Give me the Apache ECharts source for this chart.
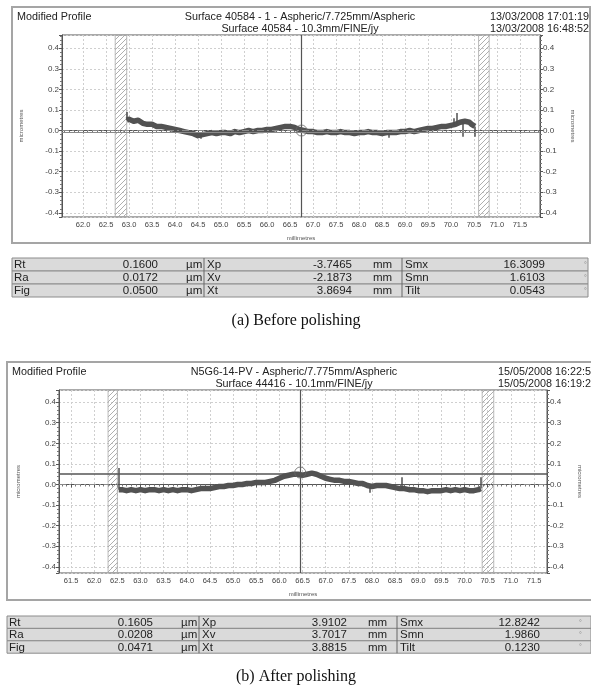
<!DOCTYPE html>
<html>
<head>
<meta charset="utf-8">
<script src="https://cdn.jsdelivr.net/npm/echarts@6/dist/echarts.min.js"></script>
<style>
html, body { margin: 0; padding: 0; background: #fff; }
#chart { width: 591px; height: 692px; }
</style>
</head>
<body>
<div id="chart"></div>
<script>
// profile readings [millimetres, micrometres]
var topProfile = [
  [62.95, 0.05], [62.97, 0.05], [63.0, 0.055], [63.1, 0.045], [63.2, 0.05], [63.3, 0.035],
  [63.4, 0.03], [63.5, 0.03], [63.6, 0.02], [63.7, 0.02], [63.8, 0.015], [63.9, 0.01],
  [64.0, 0.005], [64.1, 0.0], [64.2, -0.005], [64.3, -0.01], [64.4, -0.015], [64.5, -0.025],
  [64.6, -0.02], [64.7, -0.015], [64.8, -0.01], [64.9, -0.015], [65.0, -0.01],
  [65.1, -0.01], [65.2, -0.015], [65.3, -0.005], [65.4, -0.01], [65.5, -0.005], [65.6, 0.0],
  [65.7, -0.005], [65.8, 0.0], [65.9, 0.0], [66.0, 0.005], [66.1, 0.005], [66.2, 0.01],
  [66.3, 0.015], [66.4, 0.02], [66.5, 0.02], [66.6, 0.015], [66.7, 0.005], [66.8, 0.0],
  [66.9, -0.005], [67.0, -0.005], [67.1, -0.01], [67.2, -0.01], [67.3, -0.005], [67.4, -0.01],
  [67.5, -0.01], [67.6, -0.005], [67.7, -0.01], [67.8, -0.01], [67.9, -0.015], [68.0, -0.01],
  [68.1, -0.01], [68.2, -0.005], [68.3, -0.01], [68.4, -0.01], [68.5, -0.015], [68.6, -0.01],
  [68.7, -0.01], [68.8, -0.01], [68.9, -0.005], [69.0, -0.005], [69.1, 0.0],
  [69.2, -0.005], [69.3, 0.0], [69.4, 0.005], [69.5, 0.01], [69.6, 0.01], [69.7, 0.015],
  [69.8, 0.02], [69.9, 0.02], [70.0, 0.025], [70.1, 0.03],
  [70.2, 0.04], [70.3, 0.045], [70.4, 0.04], [70.45, 0.03], [70.52, 0.02]
];
// narrow spikes [mm, from, to]
var topSpikes = [
  [62.95, 0.05, 0.09], [64.55, -0.02, -0.04], [68.65, -0.01, -0.035], [70.05, 0.025, 0.06],
  [70.13, 0.03, 0.085], [70.25, 0.04, -0.03], [70.52, 0.02, -0.03]
];
var botProfile = [
  [62.53, -0.025], [62.55, -0.03], [62.6, -0.025], [62.7, -0.03], [62.8, -0.025], [62.9, -0.03],
  [63.0, -0.025], [63.1, -0.03], [63.2, -0.025], [63.3, -0.025], [63.4, -0.03], [63.5, -0.025],
  [63.6, -0.03], [63.7, -0.025], [63.8, -0.03], [63.9, -0.025], [64.0, -0.025], [64.1, -0.03],
  [64.2, -0.025], [64.3, -0.02], [64.4, -0.02], [64.5, -0.02], [64.6, -0.015], [64.7, -0.01],
  [64.8, -0.01], [64.9, -0.005], [65.0, -0.005], [65.1, 0.0], [65.2, 0.0], [65.3, 0.005],
  [65.4, 0.005], [65.5, 0.01], [65.6, 0.01], [65.7, 0.01], [65.8, 0.015], [65.9, 0.02],
  [66.0, 0.03], [66.1, 0.04], [66.2, 0.045], [66.3, 0.05], [66.4, 0.05], [66.5, 0.045],
  [66.6, 0.05], [66.7, 0.055], [66.8, 0.05], [66.9, 0.04], [67.0, 0.03], [67.1, 0.025],
  [67.2, 0.02], [67.3, 0.02], [67.4, 0.015], [67.5, 0.015], [67.6, 0.01], [67.7, 0.005],
  [67.8, 0.005], [67.9, -0.005], [68.0, -0.01], [68.1, -0.005], [68.2, -0.005], [68.3, -0.005],
  [68.4, -0.01], [68.5, -0.015], [68.6, -0.02], [68.7, -0.02], [68.8, -0.025],
  [68.9, -0.025], [69.0, -0.03], [69.1, -0.03], [69.2, -0.035], [69.3, -0.03], [69.4, -0.03],
  [69.5, -0.03], [69.6, -0.025], [69.7, -0.03], [69.8, -0.025], [69.9, -0.03], [70.0, -0.025],
  [70.1, -0.03], [70.2, -0.03], [70.3, -0.025], [70.35, -0.02]
];
var botSpikes = [
  [62.53, -0.025, 0.08], [67.95, -0.01, -0.04], [68.65, -0.02, 0.035], [70.35, -0.02, 0.035]
];

// excluded (hatched) zones, mm
var topBands = [[62.7, 62.95], [70.6, 70.83]];
var botBands = [[62.3, 62.5], [70.38, 70.63]];

// cursor position (mm), cursor marker height, reference level (um)
var topCursor = { x: 66.75, mark: 0.0, level: -0.012 };
var botCursor = { x: 66.45, mark: 0.058, level: 0.046 };

// header texts
var topHeader = ['Surface 40584 - 1 - Aspheric/7.725mm/Aspheric', 'Surface 40584 - 10.3mm/FINE/jy'];
var topDates = ['13/03/2008 17:01:19', '13/03/2008 16:48:52'];
var botHeader = ['N5G6-14-PV - Aspheric/7.775mm/Aspheric', 'Surface 44416 - 10.1mm/FINE/jy'];
var botDates = ['15/05/2008 16:22:5', '15/05/2008 16:19:2'];

// result tables
var paramNames = [['Rt', 'Ra', 'Fig'], ['Xp', 'Xv', 'Xt'], ['Smx', 'Smn', 'Tilt']];
var paramUnits = ['\u00b5m', 'mm', '\u00b0'];
var topParams = [['0.1600', '0.0172', '0.0500'], ['-3.7465', '-2.1873', '3.8694'], ['16.3099', '1.6103', '0.0543']];
var botParams = [['0.1605', '0.0208', '0.0471'], ['3.9102', '3.7017', '3.8815'], ['12.8242', '1.9860', '0.1230']];

var FONT = 'Liberation Sans, Arial, sans-serif';

// diagonal hatch used for the excluded zones
var hatch = document.createElement('canvas');
hatch.width = 5; hatch.height = 5;
var hctx = hatch.getContext('2d');
hctx.strokeStyle = '#9a9a9a';
hctx.lineWidth = 0.8;
hctx.beginPath();
hctx.moveTo(0, 5); hctx.lineTo(5, 0);
hctx.moveTo(-1, 1); hctx.lineTo(1, -1);
hctx.moveTo(4, 6); hctx.lineTo(6, 4);
hctx.stroke();

function halfStep(v) {
  return Math.abs(v * 2 - Math.round(v * 2)) < 1e-6 ? v.toFixed(1) : '';
}
function tenthStep(v) {
  return Math.abs(v * 10 - Math.round(v * 10)) < 1e-6 ? v.toFixed(1) : '';
}

function xAxisFor(gi, min, max) {
  return {
    type: 'value', gridIndex: gi, min: min, max: max, splitNumber: 20,
    name: 'millimetres', nameLocation: 'middle', nameGap: 18,
    nameTextStyle: { fontSize: 6, color: '#555', fontFamily: FONT },
    axisLine: { show: true, lineStyle: { color: '#555' } },
    axisTick: { show: true, length: 3, lineStyle: { color: '#555' } },
    minorTick: { show: true, splitNumber: 5, length: 2, lineStyle: { color: '#777' } },
    axisLabel: { fontSize: 7.5, color: '#444', margin: 4, fontFamily: FONT, formatter: halfStep },
    splitLine: { show: true, lineStyle: { color: '#cfcfcf', type: [2, 2] } }
  };
}
function yAxisFor(gi, min, max, pos) {
  return {
    type: 'value', gridIndex: gi, min: min, max: max, splitNumber: 8, position: pos,
    name: 'micrometres', nameLocation: 'middle', nameGap: pos === 'left' ? 38 : 30,
    nameRotate: pos === 'left' ? 90 : -90,
    nameTextStyle: { fontSize: 6, color: '#555', fontFamily: FONT },
    axisLine: { show: true, lineStyle: { color: '#555' } },
    axisTick: { show: true, length: 3, lineStyle: { color: '#555' } },
    minorTick: { show: true, splitNumber: 5, length: 2, lineStyle: { color: '#777' } },
    axisLabel: { fontSize: 8, color: '#444', margin: 3, fontFamily: FONT, formatter: tenthStep },
    splitLine: { show: pos === 'left', lineStyle: { color: '#cfcfcf', type: [2, 2] } }
  };
}

function panelSeries(gi, profile, spikes, bands, cursor, xMin, xMax, zeroSplit) {
  var zeroLines;
  if (zeroSplit) {
    zeroLines = [
      [{ coord: [xMin, 0] }, { coord: [bands[0][0], 0] }],
      [{ coord: [bands[1][1], 0] }, { coord: [xMax, 0] }]
    ];
  } else {
    zeroLines = [[{ coord: [xMin, 0] }, { coord: [xMax, 0] }]];
  }
  return [
    {
      type: 'line', xAxisIndex: gi, yAxisIndex: gi * 2, data: profile,
      symbol: 'none', silent: true, z: 3,
      lineStyle: { color: '#525252', width: 5.5, join: 'round' },
      markArea: {
        silent: true,
        itemStyle: { color: { image: hatch, repeat: 'repeat' }, borderColor: '#a8a8a8', borderWidth: 0.8 },
        data: bands.map(function (b) { return [{ xAxis: b[0] }, { xAxis: b[1] }]; })
      }
    },
    {
      type: 'line', xAxisIndex: gi, yAxisIndex: gi * 2, data: [], silent: true, z: 3,
      markLine: {
        silent: true, symbol: 'none', label: { show: false },
        lineStyle: { color: '#4f4f4f', width: 1.5, type: 'solid' },
        data: spikes.map(function (s) { return [{ coord: [s[0], s[1]] }, { coord: [s[0], s[2]] }]; })
      }
    },
    {
      type: 'line', xAxisIndex: gi, yAxisIndex: gi * 2, data: [], silent: true, z: 2,
      markLine: {
        silent: true, symbol: 'none', label: { show: false },
        lineStyle: { color: '#8a8a8a', width: 1, type: [7, 3, 2, 3] },
        data: zeroLines
      }
    },
    {
      type: 'line', xAxisIndex: gi, yAxisIndex: gi * 2, data: [], silent: true, z: 4,
      markLine: {
        silent: true, symbol: 'none', label: { show: false },
        data: [
          { xAxis: cursor.x, lineStyle: { color: '#555', width: 1.2, type: 'solid' } },
          { yAxis: cursor.level, lineStyle: { color: zeroSplit ? '#555' : '#8a8a8a', width: zeroSplit ? 1.5 : 1, type: 'solid' } }
        ]
      }
    },
    {
      type: 'scatter', xAxisIndex: gi, yAxisIndex: gi * 2, silent: true, z: 5,
      data: [[cursor.x, cursor.mark]], symbol: 'circle', symbolSize: 11,
      itemStyle: { color: 'rgba(255,255,255,0)', borderColor: '#666', borderWidth: 1 }
    }
  ];
}

function headerGraphics(x0, y0, right, centerX, header, dates) {
  var f = '10.8px ' + FONT;
  return [
    { type: 'text', x: x0 + 5, y: y0 + 3, style: { text: 'Modified Profile', font: f, fill: '#222' } },
    { type: 'text', x: centerX, y: y0 + 3, style: { text: header[0], font: f, fill: '#222', textAlign: 'center' } },
    { type: 'text', x: centerX, y: y0 + 15, style: { text: header[1], font: f, fill: '#222', textAlign: 'center' } },
    { type: 'text', x: right, y: y0 + 3, style: { text: dates[0], font: f, fill: '#222', textAlign: 'right' } },
    { type: 'text', x: right, y: y0 + 15, style: { text: dates[1], font: f, fill: '#222', textAlign: 'right' } }
  ];
}

function tableGraphics(x0, y0, w, rowH, values) {
  var els = [];
  var labelX = [2, 195, 393];
  var valueR = [146, 340, 533];
  var unitX = [174, 361, 572];
  var sepX = [192, 390];
  var f = '11.5px ' + FONT;
  for (var r = 0; r < 3; r++) {
    var ry = y0 + r * rowH;
    els.push({ type: 'rect', shape: { x: x0, y: ry, width: w, height: rowH },
      style: { fill: '#dadada', stroke: '#8c8c8c', lineWidth: 1 } });
    for (var c = 0; c < 3; c++) {
      var ty = ry + rowH / 2 + 0.5;
      els.push({ type: 'text', x: x0 + labelX[c], y: ty,
        style: { text: paramNames[c][r], font: f, fill: '#222', textVerticalAlign: 'middle' } });
      els.push({ type: 'text', x: x0 + valueR[c], y: ty,
        style: { text: values[c][r], font: f, fill: '#222', textAlign: 'right', textVerticalAlign: 'middle' } });
      els.push({ type: 'text', x: x0 + unitX[c], y: ty,
        style: { text: paramUnits[c], font: (c === 2 ? '7px ' : '11.5px ') + FONT, fill: c === 2 ? '#888' : '#222', textVerticalAlign: 'middle' } });
    }
  }
  sepX.forEach(function (sx) {
    els.push({ type: 'line', shape: { x1: x0 + sx, y1: y0, x2: x0 + sx, y2: y0 + 3 * rowH },
      style: { stroke: '#666', lineWidth: 1 } });
  });
  return els;
}

var topX = [61.543, 71.935];
var botX = [61.24, 71.78];

var graphics = [
  { type: 'rect', z: -1, shape: { x: 12, y: 7, width: 578, height: 236 }, style: { fill: '#fff', stroke: '#a5a5a5', lineWidth: 2 } },
  { type: 'rect', z: -1, shape: { x: 7, y: 362, width: 590, height: 238 }, style: { fill: '#fff', stroke: '#a5a5a5', lineWidth: 2 } },
  { type: 'text', x: 296, y: 321, style: { text: '(a) Before polishing', font: '16px Liberation Serif, Times New Roman, serif', fill: '#111', textAlign: 'center', textVerticalAlign: 'middle' } },
  { type: 'text', x: 296, y: 677, style: { text: '(b) After polishing', font: '16px Liberation Serif, Times New Roman, serif', fill: '#111', textAlign: 'center', textVerticalAlign: 'middle' } }
]
  .concat(headerGraphics(12, 9, 589, 300, topHeader, topDates))
  .concat(headerGraphics(7, 364, 591, 294, botHeader, botDates))
  .concat(tableGraphics(12, 258, 576, 13, topParams))
  .concat(tableGraphics(7, 616, 584, 12.4, botParams));

var chart = echarts.init(document.getElementById('chart'), null, { renderer: 'canvas' });
chart.setOption({
  animation: false,
  backgroundColor: '#fff',
  grid: [
    { left: 62, top: 35, width: 478, height: 182, show: true, borderColor: '#555', borderWidth: 1, backgroundColor: 'transparent' },
    { left: 59, top: 390, width: 489, height: 183, show: true, borderColor: '#555', borderWidth: 1, backgroundColor: 'transparent' }
  ],
  xAxis: [xAxisFor(0, topX[0], topX[1]), xAxisFor(1, botX[0], botX[1])],
  yAxis: [
    yAxisFor(0, -0.42, 0.464, 'left'), yAxisFor(0, -0.42, 0.464, 'right'),
    yAxisFor(1, -0.43, 0.459, 'left'), yAxisFor(1, -0.43, 0.459, 'right')
  ],
  graphic: graphics,
  series: panelSeries(0, topProfile, topSpikes, topBands, topCursor, topX[0], topX[1], false)
    .concat(panelSeries(1, botProfile, botSpikes, botBands, botCursor, botX[0], botX[1], true))
});
</script>
</body>
</html>
